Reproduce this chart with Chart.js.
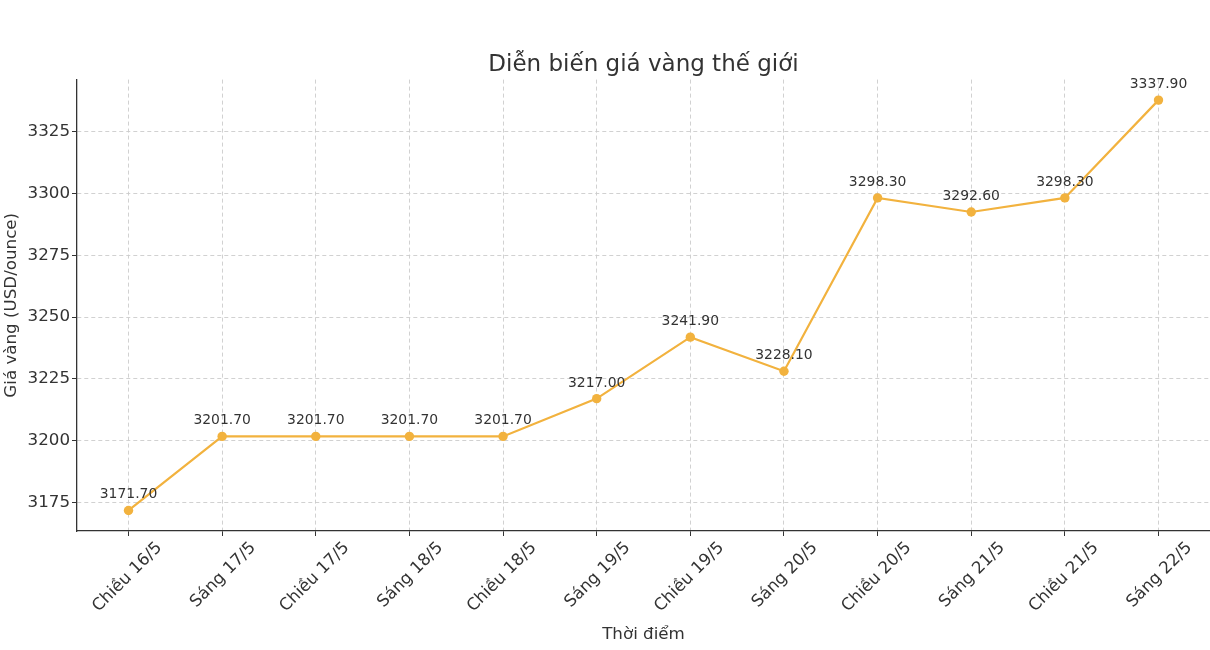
<!DOCTYPE html>
<html lang="vi">
<head>
    <meta charset="UTF-8">
    <title>Diễn biến giá vàng thế giới</title>
    <style>
        body { margin: 0; padding: 0; background: #fff; }
        #chart { display: block; }
    </style>
</head>
<body>
    <canvas id="chart" width="1210" height="650"></canvas>
    <script src="https://cdn.jsdelivr.net/npm/chart.js@4.4.1/dist/chart.umd.min.js"></script>
    <script>
        const timeLabels = ['Chiều 16/5', 'Sáng 17/5', 'Chiều 17/5', 'Sáng 18/5', 'Chiều 18/5', 'Sáng 19/5',
                            'Chiều 19/5', 'Sáng 20/5', 'Chiều 20/5', 'Sáng 21/5', 'Chiều 21/5', 'Sáng 22/5'];
        const goldPrices = [3171.70, 3201.70, 3201.70, 3201.70, 3201.70, 3217.00,
                            3241.90, 3228.10, 3298.30, 3292.60, 3298.30, 3337.90];
        const yTickStep = 25;

        const lineColor = '#F2B23E';
        const textColor = '#333333';
        const gridColor = '#cccccc';
        const fontFamily = '"DejaVu Sans", sans-serif';

        // matplotlib-like 5% margins
        const yMin = Math.min(...goldPrices), yMax = Math.max(...goldPrices);
        const yPad = (yMax - yMin) * 0.05;
        const xPad = (timeLabels.length - 1) * 0.05;

        const points = goldPrices.map((v, i) => ({ x: i, y: v }));

        const valueLabels = {
            id: 'valueLabels',
            afterDatasetsDraw(chart) {
                const ctx = chart.ctx;
                const meta = chart.getDatasetMeta(0);
                ctx.save();
                ctx.font = '13.9px ' + fontFamily;
                ctx.fillStyle = textColor;
                ctx.textAlign = 'center';
                ctx.textBaseline = 'alphabetic';
                meta.data.forEach((pt, i) => {
                    ctx.fillText(goldPrices[i].toFixed(2), pt.x, pt.y - 12);
                });
                ctx.restore();
            }
        };

        const gridOpts = {
            color: gridColor,
            lineWidth: 0.9,
            tickColor: textColor,
            tickLength: 5,
            tickWidth: 1,
            tickBorderDash: [],
            drawTicks: true
        };

        new Chart(document.getElementById('chart'), {
            type: 'line',
            data: {
                datasets: [{
                    data: points,
                    borderColor: lineColor,
                    backgroundColor: lineColor,
                    borderWidth: 2.2,
                    pointRadius: 4.7,
                    pointHoverRadius: 4.7,
                    pointBorderWidth: 0,
                    tension: 0
                }]
            },
            options: {
                responsive: false,
                animation: false,
                devicePixelRatio: 1,
                layout: { padding: 0, autoPadding: false },
                plugins: {
                    legend: { display: false },
                    tooltip: { enabled: false },
                    title: {
                        display: true,
                        fullSize: false,
                        text: 'Diễn biến giá vàng thế giới',
                        color: textColor,
                        font: { family: fontFamily, size: 23, weight: 'normal' },
                        padding: { top: 51, bottom: 1 }
                    }
                },
                scales: {
                    x: {
                        type: 'linear',
                        min: -xPad,
                        max: timeLabels.length - 1 + xPad,
                        afterFit(scale) {
                            scale.height = 119;
                            scale.paddingLeft = 0;
                            scale.paddingRight = 0;
                        },
                        ticks: {
                            stepSize: 1,
                            includeBounds: false,
                            autoSkip: false,
                            maxRotation: 45,
                            minRotation: 45,
                            labelOffset: 31,
                            padding: 2,
                            color: textColor,
                            font: { family: fontFamily, size: 16.7 },
                            callback: (v) => timeLabels[v] ?? ''
                        },
                        grid: gridOpts,
                        border: { display: true, color: textColor, width: 1.3, dash: [4, 3] },
                        title: {
                            display: true,
                            text: 'Thời điểm',
                            color: textColor,
                            font: { family: fontFamily, size: 16.7 },
                            padding: { top: 0, bottom: 5 }
                        }
                    },
                    y: {
                        min: yMin - yPad,
                        max: yMax + yPad,
                        afterFit(scale) {
                            scale.width = 77;
                            scale.paddingTop = 0;
                            scale.paddingBottom = 0;
                        },
                        ticks: {
                            stepSize: yTickStep,
                            includeBounds: false,
                            padding: 2,
                            color: textColor,
                            font: { family: fontFamily, size: 16.7 },
                            callback: (v) => String(v)
                        },
                        grid: gridOpts,
                        border: { display: true, color: textColor, width: 1.3, dash: [4, 3] },
                        title: {
                            display: true,
                            text: 'Giá vàng (USD/ounce)',
                            color: textColor,
                            font: { family: fontFamily, size: 16.7 },
                            padding: { top: 2, bottom: 0 }
                        }
                    }
                }
            },
            plugins: [valueLabels]
        });
    </script>
</body>
</html>
